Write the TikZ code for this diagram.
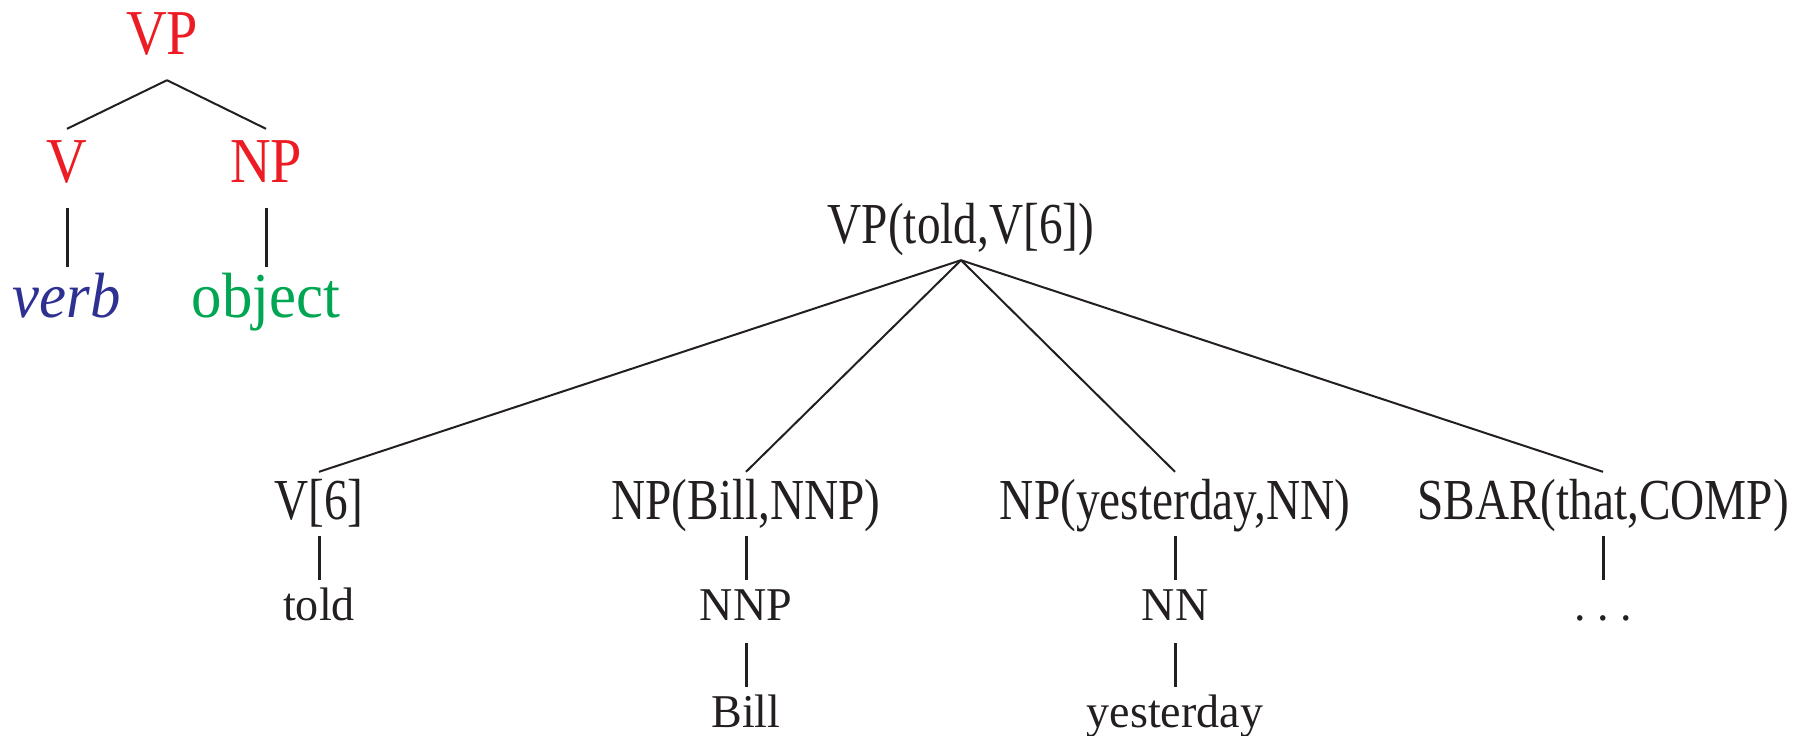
\documentclass[tikz,border=0pt]{standalone}
\usepackage{fontspec}
\setmainfont{Liberation Serif}
% condensed cuts of the serif face for the tree labels
\newfontfamily\schemafont[FakeStretch=0.88]{Liberation Serif}
\newfontfamily\leaffont[FakeStretch=0.95]{Liberation Serif}
\newfontfamily\upperfont[FakeStretch=0.815]{Liberation Serif}
\newfontfamily\lowerfont[FakeStretch=0.98]{Liberation Serif}

\definecolor{ink}{HTML}{231F20}
\definecolor{catred}{HTML}{ED1C24}
\definecolor{verbblue}{HTML}{2E3192}
\definecolor{objgreen}{HTML}{00A651}

\tikzset{
  edge/.style={draw=ink, line width=2pt},
  stem/.style={draw=ink, line width=3pt},
  % schematic tree (upper left)
  schematag/.style={anchor=base, text=catred, inner xsep=0pt, inner ysep=9pt,
    text height=44pt, text depth=17pt,
    font=\schemafont\fontsize{64}{64}\selectfont},
  schemaleaf/.style={anchor=base, inner xsep=0pt, inner ysep=9pt,
    text height=41pt, text depth=0pt,
    font=\leaffont\fontsize{64}{64}\selectfont},
  % lexicalized tree
  headtag/.style={anchor=base, text=ink, inner xsep=0pt, inner ysep=9pt,
    text height=38pt, text depth=8pt,
    font=\upperfont\fontsize{58}{58}\selectfont},
  lowtag/.style={anchor=base, text=ink, inner xsep=0pt, inner ysep=10pt,
    text height=30pt, text depth=13pt,
    font=\lowerfont\fontsize{47}{47}\selectfont},
}

\begin{document}
\begin{tikzpicture}[x=1pt, y=-1pt]
\useasboundingbox (0,0) rectangle (1813,736);

% ---- schematic VP -> V NP ----
\node[schematag] (svp) at (162,54) {VP};
\node[schematag] (sv)  at (67,182) {V};
\node[schematag] (snp) at (266,182) {NP};
\node[schemaleaf, text=verbblue] (sverb) at (67,317) {\itshape verb};
\node[schemaleaf, text=objgreen] (sobj)  at (266,317) {object};

\draw[edge] ([xshift=5pt]svp.south) -- (sv.north);
\draw[edge] ([xshift=5pt]svp.south) -- (snp.north);
\draw[stem] (sv.south) -- (sverb.north);
\draw[stem] (snp.south) -- (sobj.north);

% ---- lexicalized VP ----
\node[headtag] (vp) at (961,243) {VP(told,V[6])};

\node[headtag] (v6)   at (319,519)  {V[6]};
\node[headtag] (npb)  at (746,519)  {NP(Bill,NNP)};
\node[headtag] (npy)  at (1175,519) {NP(yesterday,NN)};
\node[headtag] (sbar) at (1603,519) {SBAR(that,COMP)};

\node[lowtag] (told) at (319,620)  {told};
\node[lowtag] (nnp)  at (746,620)  {NNP};
\node[lowtag] (nn)   at (1175,620) {NN};
\node[lowtag] (dots) at (1603,620) {.\ .\ .};

\node[lowtag] (bill) at (746,727)  {Bill};
\node[lowtag] (yest) at (1175,727) {yesterday};

\foreach \c in {v6,npb,npy,sbar}
  \draw[edge] (vp.south) -- (\c.north);

\draw[stem] (v6.south)   -- (told.north);
\draw[stem] (npb.south)  -- (nnp.north);
\draw[stem] (npy.south)  -- (nn.north);
\draw[stem] (sbar.south) -- (dots.north);
\draw[stem] (nnp.south)  -- (bill.north);
\draw[stem] (nn.south)   -- (yest.north);
\end{tikzpicture}
\end{document}
